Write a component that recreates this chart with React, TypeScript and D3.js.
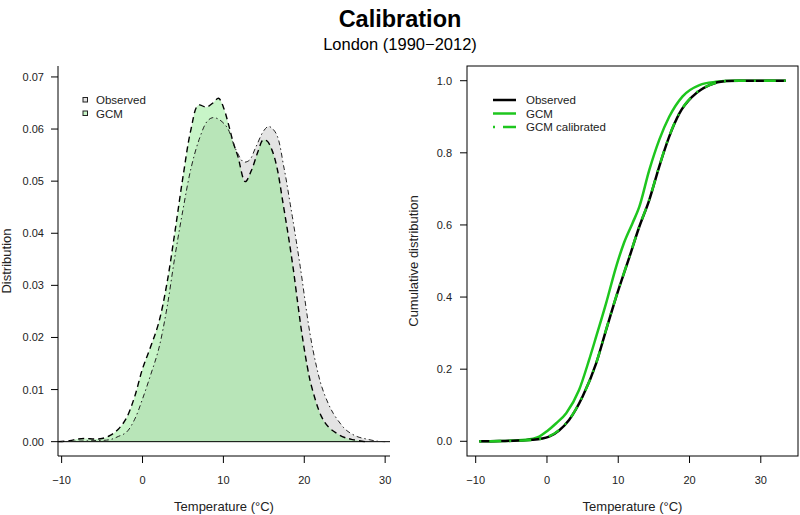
import React from "react";
import * as d3 from "d3";

// ---- Data ----
const densTicksX = [-10, 0, 10, 20, 30];
const densTicksY = [0, 0.01, 0.02, 0.03, 0.04, 0.05, 0.06, 0.07];
const cdfTicksX = [-10, 0, 10, 20, 30];
const cdfTicksY = [0, 0.2, 0.4, 0.6, 0.8, 1.0];

const obsDensT = [-10, -8, -6, -4, -3, -2, -1, 0, 1, 2, 3, 4, 5, 6, 7, 8, 8.7, 9.5, 10.5, 11.5, 12.5, 13.2, 14, 15, 15.6, 16.5, 17.5, 18.2, 18.6, 19.5, 20.7, 21.5, 22.15, 23, 23.6, 24.5, 25.2, 26.5, 27.7, 29, 30];
const obsDensD = [0, 0.0001, 0.0002, 0.0004, 0.001, 0.0018, 0.0042, 0.0082, 0.0128, 0.0178, 0.0255, 0.0355, 0.0445, 0.0525, 0.058, 0.0615, 0.0622, 0.0618, 0.0602, 0.0562, 0.0537, 0.054, 0.0565, 0.0597, 0.0605, 0.0592, 0.0525, 0.0462, 0.0425, 0.0336, 0.0208, 0.0145, 0.0106, 0.0072, 0.0054, 0.0034, 0.0022, 0.001, 0.0005, 0.0001, 0];

const gcmDensT = [-10.4, -9, -8, -7, -6, -5, -4, -3, -2, -1, 0, 1, 2, 3, 4, 5, 6, 6.9, 7.9, 8.7, 9.4, 10, 10.6, 11.2, 11.8, 12.7, 13.5, 14.3, 14.9, 15.4, 16, 16.6, 17.4, 18, 18.6, 19.2, 19.7, 20.4, 20.9, 22.1, 23, 24, 25, 26, 27.5];
const gcmDensD = [0, 0.0002, 0.0005, 0.0006, 0.0005, 0.0006, 0.0012, 0.0024, 0.0045, 0.0085, 0.014, 0.0182, 0.0228, 0.0302, 0.0402, 0.0508, 0.06, 0.0646, 0.0642, 0.065, 0.0659, 0.0642, 0.0611, 0.0575, 0.0547, 0.0499, 0.0522, 0.0558, 0.0579, 0.0577, 0.056, 0.0528, 0.0455, 0.0398, 0.0336, 0.0265, 0.0208, 0.0142, 0.0106, 0.0049, 0.0028, 0.0016, 0.0008, 0.0004, 0];

const gcmCdfT = [-9.5, -6, -3, -1.1, 0, 1.3, 2.7, 4.5, 5.9, 6.9, 8.3, 9.7, 10.8, 12.0, 12.95, 14.35, 15.75, 17.15, 19.0, 21.4, 23.7, 26, 33.5];
const gcmCdfF = [0, 0.001, 0.004, 0.013, 0.028, 0.05, 0.078, 0.142, 0.225, 0.29, 0.383, 0.484, 0.55, 0.605, 0.65, 0.752, 0.836, 0.9, 0.956, 0.988, 0.997, 1.0, 1.0];

const obsCdfT = [-9.5, -6.7, -4, -2, 0.3, 1.7, 3.1, 5.0, 6.9, 8.3, 9.7, 11.55, 12.95, 14.35, 15.75, 17.15, 18.6, 20.4, 22.8, 25.1, 27, 33.5];
const obsCdfF = [0, 0.0005, 0.002, 0.004, 0.013, 0.03, 0.059, 0.124, 0.216, 0.309, 0.4, 0.51, 0.595, 0.669, 0.762, 0.845, 0.91, 0.956, 0.988, 0.999, 1.0, 1.0];

const calCdfT = [-9.5, -6.7, -4, -2, 0.3, 1.7, 3.1, 5.0, 6.9, 8.3, 9.7, 11.55, 12.95, 14.35, 15.75, 17.15, 18.6, 20.4, 22.8, 25.1, 27, 33.5];
const calCdfF = [0, 0.0005, 0.002, 0.004, 0.014, 0.031, 0.06, 0.125, 0.217, 0.31, 0.401, 0.511, 0.596, 0.67, 0.763, 0.846, 0.911, 0.957, 0.988, 0.999, 1.0, 1.0];

const FONT = "'Liberation Sans', Arial, Helvetica, sans-serif";

export default function App() {
  const W = 800, H = 515;

  // Left panel
  const Lx0 = 58, Lx1 = 390, Ly0 = 66, Ly1 = 456;
  const xL = d3.scaleLinear().domain([-10.45, 30.6]).range([Lx0, Lx1]);
  const yL = d3.scaleLinear().domain([-0.00275, 0.0721]).range([Ly1, Ly0]);

  // Right panel
  const Rx0 = 467, Rx1 = 798, Ry0 = 66, Ry1 = 456;
  const xR = d3.scaleLinear().domain([-11.22, 35.22]).range([Rx0, Rx1]);
  const yR = d3.scaleLinear().domain([-0.0408, 1.0408]).range([Ry1, Ry0]);

  const obsD = obsDensT.map((t, i) => [t, obsDensD[i]] as [number, number]);
  const gcmD = gcmDensT.map((t, i) => [t, gcmDensD[i]] as [number, number]);
  const gcmC = gcmCdfT.map((t, i) => [t, gcmCdfF[i]] as [number, number]);
  const obsC = obsCdfT.map((t, i) => [t, obsCdfF[i]] as [number, number]);
  const calC = calCdfT.map((t, i) => [t, calCdfF[i]] as [number, number]);

  const curveD = d3.curveCatmullRom.alpha(0.5);
  const areaL = d3.area<[number, number]>().x(d => xL(d[0])).y0(yL(0)).y1(d => yL(Math.max(0, d[1]))).curve(curveD);
  const lineL = d3.line<[number, number]>().x(d => xL(d[0])).y(d => yL(d[1])).curve(curveD);
  const lineR = d3.line<[number, number]>().x(d => xR(d[0])).y(d => yR(d[1])).curve(d3.curveMonotoneX);

  const tickFs = 11;
  const green = "#1ec61e";

  return (
    <svg width={W} height={H} style={{ display: "block", position: "absolute", left: 0, top: 0 }} fontFamily={FONT}>
      <rect x={0} y={0} width={W} height={H} fill="#fff" />
      <text x={400} y={27} textAnchor="middle" fontSize={23.5} fontWeight="bold" fill="#000">Calibration</text>
      <text x={400} y={50} textAnchor="middle" fontSize={16.5} fill="#000">London (1990−2012)</text>

      {/* Left panel */}
      <path d={areaL(obsD) || ""} fill="#e3e3e3" />
      <path d={areaL(gcmD) || ""} fill="rgb(124,231,124)" fillOpacity={0.42} />
      <line x1={Lx0} x2={Lx1} y1={yL(0)} y2={yL(0)} stroke="#000" strokeWidth={1} />
      <path d={lineL(gcmD) || ""} fill="none" stroke="#000" strokeWidth={1.4} strokeDasharray="6 4" />
      <path d={lineL(obsD) || ""} fill="none" stroke="#222" strokeWidth={1} strokeDasharray="1.5 3 5 3" />
      <line x1={Lx0} x2={Lx0} y1={Ly0} y2={Ly1} stroke="#000" strokeWidth={1} />
      <line x1={Lx0} x2={Lx1} y1={Ly1} y2={Ly1} stroke="#000" strokeWidth={1} />
      {densTicksY.map(v => (
        <g key={"ly" + v}>
          <line x1={Lx0 - 7} x2={Lx0} y1={yL(v)} y2={yL(v)} stroke="#000" />
          <text x={Lx0 - 14} y={yL(v) + 4} textAnchor="end" fontSize={tickFs} fill="#222">{v.toFixed(2)}</text>
        </g>
      ))}
      {densTicksX.map(v => (
        <g key={"lx" + v}>
          <line x1={xL(v)} x2={xL(v)} y1={Ly1} y2={Ly1 + 7} stroke="#000" />
          <text x={xL(v)} y={Ly1 + 28} textAnchor="middle" fontSize={tickFs} fill="#222">{v < 0 ? "−" + Math.abs(v) : v}</text>
        </g>
      ))}
      <text x={(Lx0 + Lx1) / 2} y={511} textAnchor="middle" fontSize={13} fill="#222">Temperature (°C)</text>
      <text transform={`translate(11,${(Ly0 + Ly1) / 2}) rotate(-90)`} textAnchor="middle" fontSize={13} fill="#222">Distribution</text>
      {/* left legend */}
      <rect x={83} y={97.5} width={4.5} height={4.5} fill="#e3e3e3" stroke="#222" strokeWidth={1} />
      <rect x={83} y={111} width={4.5} height={4.5} fill="#c8f5c8" stroke="#222" strokeWidth={1} />
      <text x={96} y={104} fontSize={11.5} fill="#222">Observed</text>
      <text x={96} y={117.5} fontSize={11.5} fill="#222">GCM</text>

      {/* Right panel */}
      <path d={lineR(gcmC) || ""} fill="none" stroke={green} strokeWidth={2.5} />
      <path d={lineR(obsC) || ""} fill="none" stroke="#000" strokeWidth={2.5} />
      <path d={lineR(calC) || ""} fill="none" stroke={green} strokeWidth={2.5} strokeDasharray="2 8 12 8" />
      <rect x={Rx0} y={Ry0} width={Rx1 - Rx0} height={Ry1 - Ry0} fill="none" stroke="#000" strokeWidth={1} />
      {cdfTicksY.map(v => (
        <g key={"ry" + v}>
          <line x1={Rx0 - 7} x2={Rx0} y1={yR(v)} y2={yR(v)} stroke="#000" />
          <text x={Rx0 - 15} y={yR(v) + 4} textAnchor="end" fontSize={tickFs} fill="#222">{v.toFixed(1)}</text>
        </g>
      ))}
      {cdfTicksX.map(v => (
        <g key={"rx" + v}>
          <line x1={xR(v)} x2={xR(v)} y1={Ry1} y2={Ry1 + 7} stroke="#000" />
          <text x={xR(v)} y={Ry1 + 28} textAnchor="middle" fontSize={tickFs} fill="#222">{v < 0 ? "−" + Math.abs(v) : v}</text>
        </g>
      ))}
      <text x={(Rx0 + Rx1) / 2} y={511} textAnchor="middle" fontSize={13} fill="#222">Temperature (°C)</text>
      <text transform={`translate(418,${(Ry0 + Ry1) / 2}) rotate(-90)`} textAnchor="middle" fontSize={13} fill="#222">Cumulative distribution</text>
      {/* right legend */}
      <line x1={493} x2={516} y1={100} y2={100} stroke="#000" strokeWidth={2.5} />
      <line x1={493} x2={516} y1={113.5} y2={113.5} stroke={green} strokeWidth={2.5} />
      <line x1={493} x2={516} y1={127} y2={127} stroke={green} strokeWidth={2.5} strokeDasharray="2 8 13 8" />
      <text x={526} y={104} fontSize={11.5} fill="#222">Observed</text>
      <text x={526} y={117.5} fontSize={11.5} fill="#222">GCM</text>
      <text x={526} y={131} fontSize={11.5} fill="#222">GCM calibrated</text>
    </svg>
  );
}
